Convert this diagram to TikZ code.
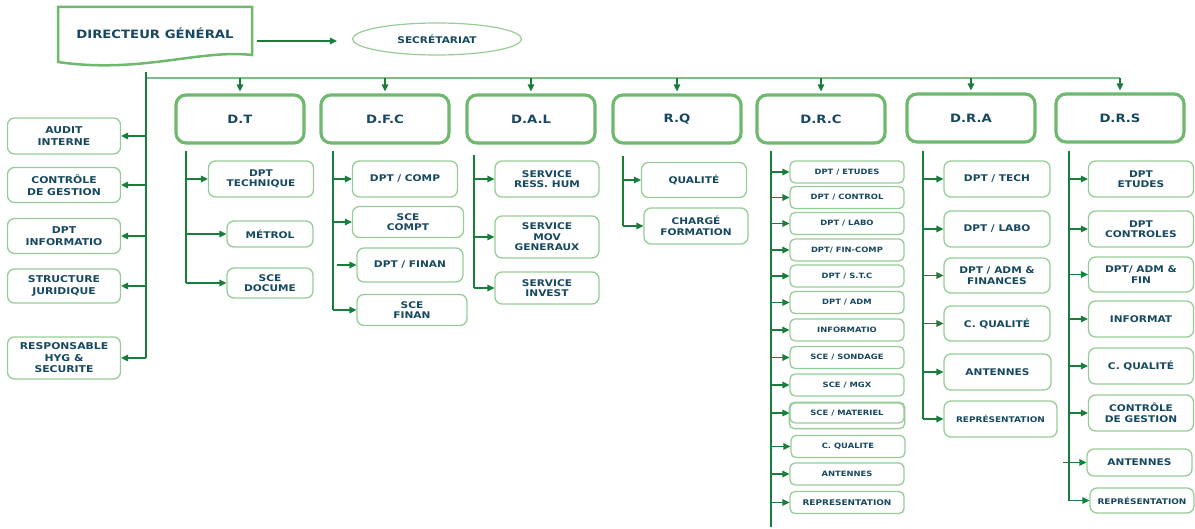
\documentclass[tikz,border=0pt]{standalone}
\usepackage{fontspec}
\setmainfont{DejaVu Sans}[FakeStretch=1.15]
\usetikzlibrary{positioning,arrows.meta,shapes.geometric}

\definecolor{orgtext}{RGB}{22,72,95}
\definecolor{boxgreen}{RGB}{150,205,150}
\definecolor{deptgreen}{RGB}{110,185,110}
\definecolor{linegreen}{RGB}{25,125,60}
\definecolor{busgreen}{RGB}{125,190,135}

\newcommand{\orgbig}{\bfseries\fontsize{11.5}{13}\selectfont}
\newcommand{\orgsec}{\bfseries\fontsize{9.2}{10}\selectfont}
\newcommand{\orgmid}{\bfseries\fontsize{9.2}{10.5}\selectfont}
\newcommand{\orgleft}{\bfseries\fontsize{9.4}{11.5}\selectfont}
\newcommand{\orgsmall}{\bfseries\fontsize{7.3}{8}\selectfont}
\newcommand{\orgrep}{\bfseries\fontsize{7.8}{9}\selectfont}

\begin{document}
\begin{tikzpicture}[x=1pt,y=-1pt,
	deptbox/.style={draw=deptgreen,line width=3.2pt,rounded corners=10pt,minimum width=128pt,minimum height=48pt,text=orgtext,font=\orgbig},
	subbox/.style={draw=boxgreen,line width=1.3pt,rounded corners=7pt,align=center,text=orgtext,font=\orgmid,inner sep=1pt},
	leftbox/.style={subbox,minimum width=113pt,font=\orgleft},
	drcbox/.style={subbox,minimum width=114pt,minimum height=22pt,rounded corners=5pt,font=\orgsmall},
	arr/.style={draw=linegreen,line width=1.4pt,-{Triangle[length=7pt,width=6.5pt]}},
	trunk/.style={draw=linegreen,line width=1.6pt},
	busline/.style={draw=busgreen,line width=1.4pt}]
\useasboundingbox (0,0) rectangle (1195,529);

\draw[draw=deptgreen,line width=2.5pt] (58,7) -- (252,7) -- (252,55) .. controls (200,49) and (140,74) .. (58,62) -- cycle;
\node[text=orgtext,font=\orgbig] (dg) at (155,33) {DIRECTEUR GÉNÉRAL};
\node[ellipse,draw=boxgreen,line width=1.2pt,minimum width=169pt,minimum height=32pt,text=orgtext,font=\orgsec] (sec) at (437,39) {SECRÉTARIAT};
\coordinate (dgout) at (257,41);
\draw[arr,shorten >=15pt] (dgout) -- (dgout -| sec.west);

\node[deptbox] (dt) at (240,119) {D.T};
\node[deptbox] (dfc) at (385,119) {D.F.C};
\node[deptbox] (dal) at (531,119) {D.A.L};
\node[deptbox] (rq) at (677,119) {R.Q};
\node[deptbox] (drc) at (821,119) {D.R.C};
\node[deptbox] (dra) at (971,118) {D.R.A};
\node[deptbox] (drs) at (1120,118) {D.R.S};

\coordinate (busL) at (146,78);
\draw[busline] (busL) -- (busL -| drs.north);
\foreach \d in {dt,dfc,dal,rq,drc,dra,drs}
	\draw[arr,shorten >=2pt] (\d.north |- busL) -- (\d.north);

\node[leftbox,minimum height=36pt] (audit) at (64,136) {AUDIT\\INTERNE};
\node[leftbox,minimum height=35pt] (ctrl) at (64,185) {CONTRÔLE\\DE GESTION};
\node[leftbox,minimum height=35pt] (info) at (64,236) {DPT\\INFORMATIO};
\node[leftbox,minimum height=34pt] (juri) at (64,286) {STRUCTURE\\JURIDIQUE};
\node[leftbox,minimum height=42pt] (hyg) at (64,358) {RESPONSABLE\\HYG \&\\SECURITE};
\coordinate (gT) at (146,72);
\draw[trunk] (gT) -- (gT |- hyg.east);
\foreach \n in {audit,ctrl,info,juri,hyg}
	\draw[arr] (\n.east -| gT) -- (\n.east);

\node[subbox,minimum width=105pt,minimum height=36pt] (dt1) at (261,179) {DPT\\TECHNIQUE};
\node[subbox,minimum width=86pt,minimum height=26pt] (dt2) at (270,234) {MÉTROL};
\node[subbox,minimum width=86pt,minimum height=30pt] (dt3) at (270,283) {SCE\\DOCUME};
\coordinate (dtT) at (186,151);
\draw[trunk] (dtT) -- (dtT |- dt3.west);
\foreach \n in {dt1,dt2,dt3}
	\draw[arr] (\n.west -| dtT) -- (\n.west);

\node[subbox,minimum width=105pt,minimum height=36pt] (dfc1) at (405,179) {DPT / COMP};
\node[subbox,minimum width=111pt,minimum height=31pt] (dfc2) at (408,222) {SCE\\COMPT};
\node[subbox,minimum width=106pt,minimum height=34pt] (dfc3) at (410,265) {DPT / FINAN};
\node[subbox,minimum width=110pt,minimum height=31pt] (dfc4) at (412,310) {SCE\\FINAN};
\coordinate (dfcT) at (333,151);
\draw[trunk] (dfcT) -- (dfcT |- dfc4.west);
\foreach \n in {dfc1,dfc2,dfc4}
	\draw[arr] (\n.west -| dfcT) -- (\n.west);
\draw[arr,shorten <=4pt] (dfc3.west -| dfcT) -- (dfc3.west);

\node[subbox,minimum width=104pt,minimum height=36pt] (dal1) at (547,179) {SERVICE\\RESS. HUM};
\node[subbox,minimum width=104pt,minimum height=42pt] (dal2) at (547,237) {SERVICE\\MOV\\GENERAUX};
\node[subbox,minimum width=104pt,minimum height=32pt] (dal3) at (547,288) {SERVICE\\INVEST};
\coordinate (dalT) at (474,155);
\draw[trunk] (dalT) -- (dalT |- dal3.west);
\foreach \n in {dal1,dal2,dal3}
	\draw[arr] (\n.west -| dalT) -- (\n.west);

\node[subbox,minimum width=105pt,minimum height=35pt] (rq1) at (694,180) {QUALITÉ};
\node[subbox,minimum width=104pt,minimum height=36pt] (rq2) at (696,226) {CHARGÉ\\FORMATION};
\coordinate (rqT) at (623,156);
\draw[trunk] (rqT) -- (rqT |- rq2.west);
\foreach \n in {rq1,rq2}
	\draw[arr] (\n.west -| rqT) -- (\n.west);

\node[drcbox] (drc1) at (847,172) {DPT / ETUDES};
\node[drcbox] (drc2) at (847,197.5) {DPT / CONTROL};
\node[drcbox] (drc3) at (847,223.5) {DPT / LABO};
\node[drcbox] (drc4) at (847,250) {DPT/ FIN-COMP};
\node[drcbox] (drc5) at (847,276) {DPT / S.T.C};
\node[drcbox] (drc6) at (847,302.5) {DPT / ADM};
\node[drcbox] (drc7) at (847,330) {INFORMATIO};
\node[drcbox] (drc8) at (847,357.5) {SCE / SONDAGE};
\node[drcbox] (drc9) at (847,385) {SCE / MGX};
\node[drcbox,minimum height=20pt] (drc10) at (847,413) {SCE / MATERIEL};
\draw[draw=boxgreen,line width=1.3pt,rounded corners=5pt] (drc10.north west) rectangle ([yshift=-5pt]drc10.south east);
\node[drcbox] (drc11) at (848,446.5) {C. QUALITE};
\node[drcbox] (drc12) at (847,474) {ANTENNES};
\node[drcbox,font=\orgrep] (drc13) at (847,502.5) {REPRESENTATION};
\coordinate (drcT) at (771,151);
\coordinate (drcB) at (771,527);
\draw[trunk] (drcT) -- (drcB);
\foreach \n in {drc1,drc2,drc3,drc4,drc5,drc6,drc7,drc8,drc9,drc10,drc11,drc12,drc13}
	\draw[arr] (\n.west -| drcT) -- (\n.west);

\node[subbox,minimum width=106pt,minimum height=36pt] (dra1) at (997,179) {DPT / TECH};
\node[subbox,minimum width=106pt,minimum height=36pt] (dra2) at (997,229) {DPT / LABO};
\node[subbox,minimum width=106pt,minimum height=35pt] (dra3) at (997,275.5) {DPT / ADM \&\\FINANCES};
\node[subbox,minimum width=106pt,minimum height=35pt] (dra4) at (997,323.5) {C. QUALITÉ};
\node[subbox,minimum width=107pt,minimum height=36pt] (dra5) at (997.5,372) {ANTENNES};
\node[subbox,minimum width=113pt,minimum height=36pt,font=\orgrep] (dra6) at (1000.5,419) {REPRÉSENTATION};
\coordinate (draT) at (923,151);
\draw[trunk] (draT) -- (draT |- dra6.west);
\foreach \n in {dra1,dra2,dra3,dra4,dra5,dra6}
	\draw[arr] (\n.west -| draT) -- (\n.west);

\node[subbox,minimum width=105pt,minimum height=36pt] (drs1) at (1141,179) {DPT\\ETUDES};
\node[subbox,minimum width=105pt,minimum height=36pt] (drs2) at (1141,229) {DPT\\CONTROLES};
\node[subbox,minimum width=105pt,minimum height=35pt] (drs3) at (1141,274.5) {DPT/ ADM \&\\FIN};
\node[subbox,minimum width=105pt,minimum height=36pt] (drs4) at (1141,319) {INFORMAT};
\node[subbox,minimum width=105pt,minimum height=36pt] (drs5) at (1141,366) {C. QUALITÉ};
\node[subbox,minimum width=105pt,minimum height=36pt] (drs6) at (1141,413) {CONTRÔLE\\DE GESTION};
\node[subbox,minimum width=105pt,minimum height=27pt] (drs7) at (1139.5,462.5) {ANTENNES};
\node[subbox,minimum width=104pt,minimum height=25pt,font=\orgrep] (drs8) at (1142,500.5) {REPRÉSENTATION};
\coordinate (drsT) at (1069,151);
\draw[trunk] (drsT) -- (drsT |- drs8.west);
\foreach \n in {drs1,drs2,drs3,drs4,drs5,drs6,drs8}
	\draw[arr] (\n.west -| drsT) -- (\n.west);
\draw[arr] ([xshift=-6pt]drs7.west -| drsT) -- (drs7.west);
\end{tikzpicture}
\end{document}
